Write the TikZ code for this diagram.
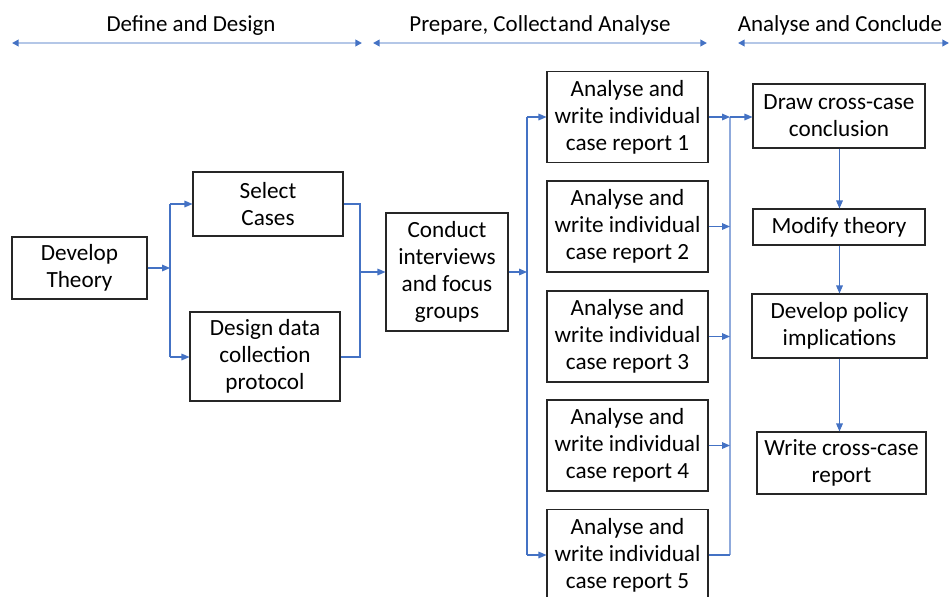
\documentclass[tikz,border=0pt]{standalone}
\usepackage{fontspec}
\setmainfont{Carlito}
\usetikzlibrary{arrows.meta}
\definecolor{linkblue}{HTML}{4472C4}
\definecolor{buslight}{HTML}{8FAADC}
\definecolor{phasebar}{HTML}{B4C7E7}
\tikzset{
  box/.style={draw=black!85, line width=0.8pt, align=center, inner sep=0pt,
    font=\fontsize{17.4}{20.3}\selectfont},
  phase/.style={font=\fontsize{17.2}{20}\selectfont},
  phasearrow/.style={draw=phasebar, line width=1.6pt,
    {Triangle[length=5pt,width=5pt,color=linkblue]}-{Triangle[length=5pt,width=5pt,color=linkblue]}},
  conn/.style={draw=linkblue, line width=0.8pt},
  arr/.style={conn, -{Triangle[length=6pt,width=5pt]}},
  bus/.style={draw=buslight, line width=1.5pt},
}
\begin{document}
\begin{tikzpicture}[x=0.75pt, y=-0.75pt]
\path[use as bounding box, fill=white] (0,0) rectangle (951,597);

% phase headings
\node[phase] (h1) at (191,25.5) {Define and Design};
\node[phase] (h2) at (540,25.5) {Prepare, Collect\hspace{0.05em}and Analyse};
\node[phase] (h3) at (840,25.5) {Analyse and Conclude};
\coordinate (h1l) at (12,43);  \coordinate (h1r) at (362,43);
\coordinate (h2l) at (373,43); \coordinate (h2r) at (707,43);
\coordinate (h3l) at (738,43); \coordinate (h3r) at (949,43);
\draw[phasearrow] (h1l) -- (h1r);
\draw[phasearrow] (h2l) -- (h2r);
\draw[phasearrow] (h3l) -- (h3r);

% boxes
\node[box, minimum width=101.25pt, minimum height=46.5pt] (dev) at (79.5,268) {Develop\\Theory};
\node[box, minimum width=112.5pt, minimum height=48pt] (sel) at (268,204) {Select\\Cases};
\node[box, minimum width=112.5pt, minimum height=66.75pt] (des) at (265,356.5) {Design data\\collection\\protocol};
\node[box, minimum width=91.5pt, minimum height=88.5pt] (con) at (447,272) {Conduct\\interviews\\and focus\\groups};
\node[box, minimum width=120.75pt, minimum height=68.25pt] (a1) at (627.5,117) {Analyse and\\write individual\\case report 1};
\node[box, minimum width=120.75pt, minimum height=68.25pt] (a2) at (627.5,226.5) {Analyse and\\write individual\\case report 2};
\node[box, minimum width=120.75pt, minimum height=68.25pt] (a3) at (627.5,336.5) {Analyse and\\write individual\\case report 3};
\node[box, minimum width=120.75pt, minimum height=68.25pt] (a4) at (627.5,445.5) {Analyse and\\write individual\\case report 4};
\node[box, minimum width=120.75pt, minimum height=68.25pt] (a5) at (627.5,555) {Analyse and\\write individual\\case report 5};
\node[box, minimum width=129pt, minimum height=48pt] (dcc) at (839,116) {Draw cross-case\\conclusion};
\node[box, minimum width=129pt, minimum height=27pt] (mod) at (839,227) {Modify theory};
\node[box, minimum width=131.25pt, minimum height=48pt] (pol) at (839.5,326) {Develop policy\\implications};
\node[box, minimum width=126.75pt, minimum height=46.5pt] (wr) at (841.5,463) {Write cross-case\\report};

% split after theory
\coordinate (s1) at (170,268);
\coordinate (s1t) at (170,204);
\coordinate (s1b) at (170,357);
\draw[arr] (dev.east) -- (s1);
\draw[conn] (s1t) -- (s1b);
\draw[arr] (s1t) -- (sel.west);
\draw[arr] (s1b) -- (s1b -| des.west);

% join before fieldwork
\coordinate (j1t) at (360,204);
\coordinate (j1b) at (360,357);
\coordinate (j1) at (360,272);
\draw[conn] (sel.east) -- (j1t) -- (j1b) -- (j1b -| des.east);
\draw[arr] (j1) -- (con.west);

% split to case reports
\coordinate (s2) at (527,272);
\coordinate (s2t) at (527,117);
\coordinate (s2b) at (527,555);
\draw[arr] (con.east) -- (s2);
\draw[conn] (s2t) -- (s2b);
\draw[arr] (s2t) -- (a1.west);
\draw[arr] (s2b) -- (a5.west);

% join of case reports
\coordinate (j2a) at (730,117);
\coordinate (j2b) at (730,226.5);
\coordinate (j2c) at (730,336.5);
\coordinate (j2d) at (730,445.5);
\coordinate (j2e) at (730,555);
\draw[bus] (j2a) -- (j2e);
\draw[arr] (a1.east) -- (j2a);
\draw[arr] (a2.east) -- (j2b);
\draw[arr] (a3.east) -- (j2c);
\draw[arr] (a4.east) -- (j2d);
\draw[conn] (a5.east) -- (j2e);
\draw[arr] (j2a) -- (j2a -| dcc.west);

% conclusion chain, on one vertical line
\coordinate (cx) at (839.5,0);
\draw[arr] (dcc.south -| cx) -- (mod.north -| cx);
\draw[arr] (mod.south -| cx) -- (pol.north -| cx);
\draw[arr] (pol.south -| cx) -- (wr.north -| cx);
\end{tikzpicture}
\end{document}
